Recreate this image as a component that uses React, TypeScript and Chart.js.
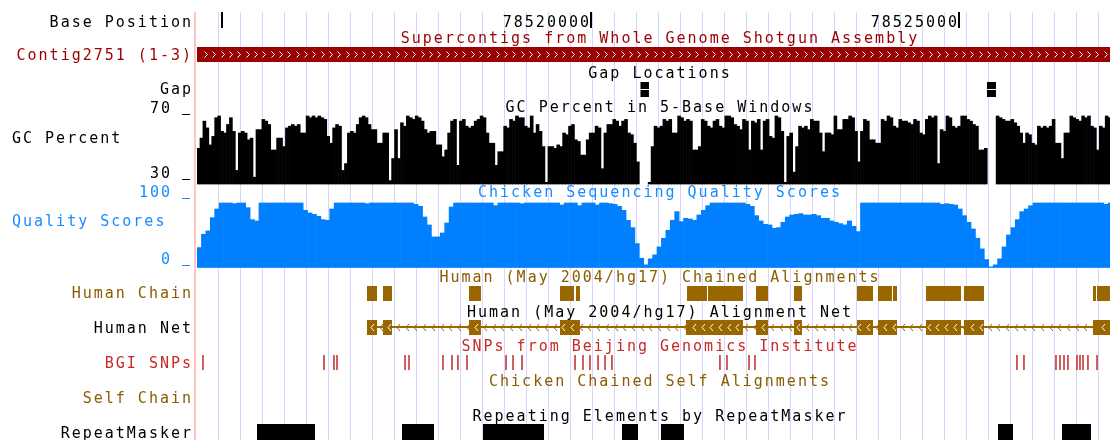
import React, { useEffect, useRef } from 'react';
import { Chart, registerables } from 'chart.js';

Chart.register(...registerables);

// ---------------- data (genomic coordinates, chr bases) ----------------
const X_MIN = 78514660;
const X_MAX = 78527045;
const RULER_TICKS = [78515000, 78520000, 78525000];

const GC_START = 78514660;
const GC_STEP = 40;
const GC_VALUES: (number | null)[] = [
  51, 57, 67, 63, 53, 58, 69, 70, 61, 60,
  65, 69, 61, 38, 60, 61, 60, 56, 57, 34,
  62, 62, 68, 67, 65, 50, 50, 57, 57, 52,
  63, 64, 65, 64, 65, 60, 60, 70, 69, 70,
  69, 70, 69, 68, 58, 54, 63, 65, 64, 38,
  42, 60, 61, 60, 65, 69, 70, 69, 65, 62,
  62, 54, 54, 60, 60, 32, 45, 62, 45, 66,
  64, 70, 69, 68, 70, 69, 67, 62, 60, 61,
  61, 53, 53, 46, 50, 60, 67, 68, 41, 67,
  68, 64, 63, 64, 67, 68, 70, 69, 60, 54,
  54, 41, 49, 49, 64, 63, 68, 67, 70, 69,
  69, 64, 63, 70, 60, 65, 61, 52, 31, 52,
  52, 51, 53, 52, 60, 59, 64, 65, 56, 55,
  47, 47, 56, 60, 60, 64, 63, 39, 60, 65,
  65, 68, 67, 64, 67, 68, 60, 59, 54, 43,
  null, null, null, 31, 52, 64, 63, 64, 68, 67,
  68, 60, 60, 70, 69, 67, 68, 67, 50, 50,
  52, 68, 67, 64, 63, 67, 68, 64, 63, 70,
  70, 69, 65, 64, 62, 68, 67, 50, 67, 66,
  68, 50, 67, 68, 58, 57, 70, 69, 61, 31,
  58, 60, 37, 52, 64, 63, 64, 62, 68, 67,
  67, 60, 49, 60, 60, 59, 70, 62, 62, 68,
  68, 70, 69, 61, 43, 61, 68, 67, 56, 56,
  54, 54, 68, 67, 70, 69, 64, 63, 68, 67,
  67, 66, 65, 68, 67, 60, 59, 68, 70, 69,
  70, 42, 62, 61, 70, 69, 64, 63, 64, 70,
  70, 68, 67, 65, 64, 50, 50, 51, null, null,
  null, 70, 69, 68, 67, 67, 68, 66, 64, 60,
  54, 60, 59, 54, 53, 64, 63, 64, 63, 64,
  68, 54, 54, 45, 60, 60, 70, 69, 68, 67,
  70, 69, 70, 64, 63, 50, 64, 63, 70, 69,
];

const QUAL_START = 78514660;
const QUAL_STEP = 60;
const QUAL_VALUES: number[] = [
  30, 50, 55, 75, 88, 97, 97, 97, 96, 97,
  97, 90, 72, 70, 97, 97, 97, 97, 97, 97,
  97, 97, 97, 97, 86, 82, 80, 77, 72, 71,
  88, 97, 97, 97, 97, 97, 97, 97, 96, 97,
  97, 97, 97, 97, 97, 97, 97, 97, 97, 95,
  92, 76, 64, 46, 46, 52, 67, 91, 97, 97,
  97, 97, 97, 97, 97, 97, 97, 93, 97, 97,
  97, 97, 97, 96, 97, 97, 97, 97, 97, 97,
  97, 97, 94, 97, 97, 97, 93, 97, 97, 97,
  94, 97, 97, 96, 95, 92, 86, 71, 60, 36,
  14, 4, 13, 19, 31, 44, 56, 71, 84, 69,
  74, 73, 71, 79, 86, 93, 97, 97, 97, 97,
  97, 97, 97, 97, 95, 92, 78, 70, 65, 64,
  59, 60, 68, 76, 79, 80, 81, 79, 79, 80,
  78, 74, 74, 70, 68, 66, 64, 70, 62, 54,
  97, 97, 97, 97, 97, 97, 97, 97, 97, 97,
  97, 97, 97, 97, 97, 97, 97, 97, 95, 96,
  95, 94, 88, 78, 68, 58, 44, 28, 12, 1,
  4, 13, 31, 49, 60, 72, 84, 88, 93, 97,
  97, 97, 97, 97, 97, 97, 97, 97, 97, 97,
  97, 97, 97, 97, 97, 95, 97,
];

const CONTIGS = [[78514600, 78527100]];
const GAPS = [[78520676, 78520791], [78525376, 78525498]];
const HUMAN_CHAIN = [
  [78516966, 78517102], [78517183, 78517305], [78518350, 78518512],
  [78519584, 78519774], [78519801, 78519855], [78521307, 78521578],
  [78521592, 78522066], [78522243, 78522406], [78522758, 78522867],
  [78523613, 78523830], [78523898, 78524088], [78524101, 78524156],
  [78524549, 78525024], [78525064, 78525336], [78526814, 78526855],
  [78526869, 78527100],
];
const HUMAN_NET_SPAN = [78516966, 78527100];
const HUMAN_NET = [
  [78516966, 78517102], [78517183, 78517305], [78518350, 78518512],
  [78519584, 78519855], [78521293, 78522066], [78522243, 78522406],
  [78522758, 78522867], [78523613, 78523830], [78523898, 78524156],
  [78524549, 78525024], [78525064, 78525336], [78526814, 78527100],
];
const SNPS = [
  78514741, 78516383, 78516518, 78516559, 78517482, 78517536,
  78517997, 78518119, 78518200, 78518323, 78518852, 78518947,
  78519069, 78519788, 78519896, 78519991, 78520100, 78520195,
  78520289, 78521754, 78521849, 78522148, 78522229, 78525783,
  78525878, 78526312, 78526367, 78526421, 78526475, 78526597,
  78526638, 78526679, 78526746, 78526869,
];
const REPEATS = [
  [78515474, 78516261], [78517441, 78517875], [78518540, 78519367],
  [78520425, 78520642], [78520954, 78521266], [78525526, 78525729],
  [78526394, 78526787],
];

const GC_AXIS = [30, 70];
const QUAL_AXIS = [0, 100];

const BASE_LABEL = 'Base Position';
const TRACK_TITLES = [
  'Supercontigs from Whole Genome Shotgun Assembly',
  'Gap Locations',
  'GC Percent in 5-Base Windows',
  'Chicken Sequencing Quality Scores',
  'Human (May 2004/hg17) Chained Alignments',
  'Human (May 2004/hg17) Alignment Net',
  'SNPs from Beijing Genomics Institute',
  'Chicken Chained Self Alignments',
  'Repeating Elements by RepeatMasker',
];
const TRACK_LABELS = [
  'Contig2751 (1-3)', 'Gap', 'GC Percent', 'Quality Scores', 'Human Chain',
  'Human Net', 'BGI SNPs', 'Self Chain', 'RepeatMasker',
];

// ---------------- layout & style ----------------
const W = 1110;
const H = 440;
const LEFT = 197;
const TITLE_CX = 660;
const LABEL_RIGHT = 193;
const FONT = '15px "DejaVu Sans Mono", "Liberation Mono", monospace';

const TITLE_BASE = [43, 78, 112, 197, 282, 317, 351, 386, 421];
const LABEL_BASE = [60, 94, 143, 226, 298, 333, 368, 403, 438];
const LABEL_LEFT_ALIGNED = [false, false, true, true, false, false, false, false, false];

const C = {
  contig: '#990000',
  contigText: '#9c0000',
  black: '#000000',
  quality: '#0080ff',
  qualityText: '#1a8cff',
  chain: '#996600',
  chainText: '#8a5c00',
  snp: '#c42828',
  snpText: '#c82828',
  grid: '#d6d6ff',
  border: '#ffc4c4',
};
const TITLE_COLORS = [C.contigText, C.black, C.black, C.qualityText, C.chainText, C.black, C.snpText, C.chainText, C.black];
const LABEL_COLORS = [C.contigText, C.black, C.black, C.qualityText, C.chainText, C.black, C.snpText, C.chainText, C.black];

const ROW = {
  contig: 54.5,
  gapA: 85.5,
  gapB: 93.5,
  chain: 293.5,
  net: 327.5,
  netLine: 327,
  snp: 362.5,
  repeat: 432,
};
const GC_PX = [184, 116];
const QUAL_PX = [267.5, 201];

function scaleRange(vLo: number, vHi: number, pLo: number, pHi: number) {
  const perPx = (vHi - vLo) / (pLo - pHi);
  return { min: vLo - (H - pLo) * perPx, max: vHi + pHi * perPx };
}

function segs(list: number[][], y: number) {
  const out: any[] = [];
  for (const [s, e] of list) {
    out.push({ x: s, y }, { x: e, y }, { x: e, y: null });
  }
  return out;
}

function lineSet(data: any[], color: string, width: number) {
  return {
    type: 'line',
    data,
    xAxisID: 'x',
    yAxisID: 'yRow',
    borderColor: color,
    borderWidth: width,
    borderCapStyle: 'butt',
    pointRadius: 0,
    spanGaps: false,
    tension: 0,
  };
}

const overlay = {
  id: 'overlay',
  beforeDatasetsDraw(chart: any) {
    const { ctx, chartArea } = chart;
    ctx.save();
    ctx.fillStyle = C.grid;
    for (let x = chartArea.left + 21; x < chartArea.right; x += 22) ctx.fillRect(x, 12, 1, H - 12);
    ctx.fillStyle = C.border;
    ctx.fillRect(LEFT - 3, 12, 2, H - 12);
    ctx.restore();
  },
  afterDatasetsDraw(chart: any) {
    const { ctx, chartArea, scales } = chart;
    const xs = scales.x;
    const ys = scales.yRow;
    ctx.save();
    ctx.lineWidth = 1;
    // contig strand chevrons
    ctx.strokeStyle = '#ffffff';
    const cy = ys.getPixelForValue(ROW.contig);
    for (let cx = chartArea.left + 9; cx < chartArea.right; cx += 8.33) {
      const px = Math.round(cx) + 0.5;
      ctx.beginPath();
      ctx.moveTo(px - 2, cy - 3);
      ctx.lineTo(px + 1, cy);
      ctx.lineTo(px - 2, cy + 3);
      ctx.stroke();
    }
    // net strand chevrons
    const ny = ys.getPixelForValue(ROW.net);
    const blocks = HUMAN_NET.map(([s, e]) => [xs.getPixelForValue(s), xs.getPixelForValue(e)]);
    const start = xs.getPixelForValue(HUMAN_NET_SPAN[0]);
    for (let cx = start + 5; cx < chartArea.right; cx += 8.7) {
      const px = Math.round(cx) + 0.5;
      const inside = blocks.some(([a, b]) => px > a + 2 && px < b - 2);
      ctx.strokeStyle = inside ? '#ffffff' : C.chain;
      ctx.beginPath();
      ctx.moveTo(px + 1.5, ny - 3.5);
      ctx.lineTo(px - 1.5, ny);
      ctx.lineTo(px + 1.5, ny + 3.5);
      ctx.stroke();
    }
    ctx.restore();
  },
  afterDraw(chart: any) {
    const { ctx, chartArea, scales } = chart;
    const xs = scales.x;
    ctx.save();
    ctx.font = FONT;
    (ctx as any).letterSpacing = '2px';
    ctx.textBaseline = 'alphabetic';
    // ruler
    ctx.fillStyle = C.black;
    ctx.textAlign = 'right';
    ctx.fillText(BASE_LABEL, LABEL_RIGHT, 27);
    for (const t of RULER_TICKS) {
      const px = Math.round(xs.getPixelForValue(t));
      ctx.fillRect(px - 1, 12, 2, 16);
      const label = String(t);
      const w = ctx.measureText(label).width;
      if (px - 2 - w > chartArea.left) ctx.fillText(label, px, 27);
    }
    // titles
    ctx.textAlign = 'center';
    TRACK_TITLES.forEach((t, i) => {
      ctx.fillStyle = TITLE_COLORS[i];
      ctx.fillText(t, TITLE_CX, TITLE_BASE[i]);
    });
    // labels
    TRACK_LABELS.forEach((t, i) => {
      ctx.fillStyle = LABEL_COLORS[i];
      if (LABEL_LEFT_ALIGNED[i]) {
        ctx.textAlign = 'left';
        ctx.fillText(t, 12, LABEL_BASE[i]);
      } else {
        ctx.textAlign = 'right';
        ctx.fillText(t, LABEL_RIGHT, LABEL_BASE[i]);
      }
    });
    // wiggle axis labels
    ctx.textAlign = 'right';
    const axisLabel = (scale: any, v: number, off: number, color: string) => {
      const y = Math.round(scale.getPixelForValue(v));
      ctx.fillStyle = color;
      ctx.fillText(String(v), 172, y + off);
      ctx.fillRect(182, y + off + 1, 8, 1);
    };
    axisLabel(scales.yGC, GC_AXIS[1], -3, C.black);
    axisLabel(scales.yGC, GC_AXIS[0], -6, C.black);
    axisLabel(scales.yQ, QUAL_AXIS[1], -4, C.qualityText);
    axisLabel(scales.yQ, QUAL_AXIS[0], -4, C.qualityText);
    ctx.restore();
  },
};

export default function App() {
  const ref = useRef<HTMLCanvasElement>(null);
  useEffect(() => {
    document.body.style.margin = '0';
    const gcData: any[] = [];
    GC_VALUES.forEach((v, i) => {
      if (v != null) gcData.push({ x: GC_START + (i + 0.5) * GC_STEP, y: [GC_AXIS[0], v] });
    });
    const qData = QUAL_VALUES.map((v, i) => ({ x: QUAL_START + (i + 0.5) * QUAL_STEP, y: [QUAL_AXIS[0], v] }));
    const gcR = scaleRange(GC_AXIS[0], GC_AXIS[1], GC_PX[0], GC_PX[1]);
    const qR = scaleRange(QUAL_AXIS[0], QUAL_AXIS[1], QUAL_PX[0], QUAL_PX[1]);

    const config: any = {
      type: 'bar',
      data: {
        datasets: [
          lineSet(segs(HUMAN_NET, ROW.net), C.chain, 15),
          lineSet(segs([HUMAN_NET_SPAN], ROW.netLine), C.chain, 2),
          lineSet(segs(HUMAN_CHAIN, ROW.chain), C.chain, 15),
          lineSet(segs(CONTIGS, ROW.contig), C.contig, 15),
          lineSet(segs(GAPS, ROW.gapA), C.black, 7),
          lineSet(segs(GAPS, ROW.gapB), C.black, 7),
          {
            type: 'line',
            data: SNPS.map((x) => ({ x, y: ROW.snp })),
            xAxisID: 'x',
            yAxisID: 'yRow',
            showLine: false,
            pointStyle: 'line',
            rotation: 90,
            radius: 7.5,
            borderWidth: 1.5,
            borderColor: C.snp,
            backgroundColor: C.snp,
          },
          lineSet(segs(REPEATS, ROW.repeat), C.black, 16),
          {
            type: 'bar',
            data: gcData,
            xAxisID: 'x',
            yAxisID: 'yGC',
            backgroundColor: C.black,
            borderWidth: 0,
            barPercentage: 1,
            categoryPercentage: 1,
            grouped: false,
          },
          {
            type: 'bar',
            data: qData,
            xAxisID: 'xq',
            yAxisID: 'yQ',
            backgroundColor: C.quality,
            borderWidth: 0,
            barPercentage: 1,
            categoryPercentage: 1,
            grouped: false,
          },
        ],
      },
      options: {
        responsive: false,
        animation: false,
        events: [],
        layout: { autoPadding: false, padding: { left: LEFT, right: 0, top: 0, bottom: 0 } },
        plugins: { legend: { display: false }, tooltip: { enabled: false }, title: { display: false } },
        scales: {
          x: { type: 'linear', min: X_MIN, max: X_MAX, display: false, offset: false },
          xq: { type: 'linear', axis: 'x', min: X_MIN, max: X_MAX, display: false, offset: false },
          yRow: { type: 'linear', min: 0, max: H, reverse: true, display: false },
          yGC: { type: 'linear', min: gcR.min, max: gcR.max, display: false },
          yQ: { type: 'linear', min: qR.min, max: qR.max, display: false },
        },
      },
      plugins: [overlay],
    };
    const chart = new Chart(ref.current as HTMLCanvasElement, config);
    return () => chart.destroy();
  }, []);
  return <canvas ref={ref} width={W} height={H} style={{ display: 'block', width: W, height: H }} />;
}
